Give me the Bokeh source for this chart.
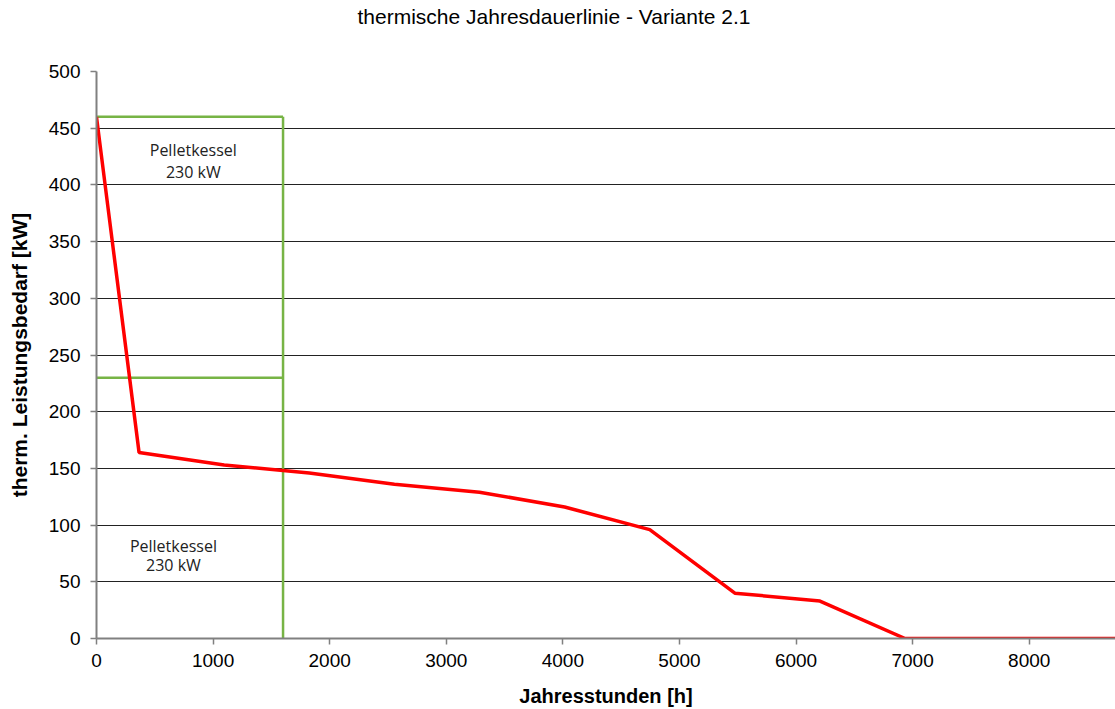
from bokeh.plotting import figure
from bokeh.models import Range1d, FixedTicker, Title
from bokeh.core.properties import value
from bokeh.embed import file_html
from bokeh.resources import INLINE

# data
hours = [0, 365, 1095, 1825, 2555, 3285, 4015, 4745, 5475, 6205, 6935, 8760]
demand_kw = [460, 164, 153, 146, 136, 129, 116, 96, 40, 33, 0, 0]

kessel_hours = 1600
peak_kw = 460
base_kw = 230

ann_upper = ["Pelletkessel", "230 kW"]
ann_lower = ["Pelletkessel", "230 kW"]

x_ticks = [0, 1000, 2000, 3000, 4000, 5000, 6000, 7000, 8000]
y_ticks = [0, 50, 100, 150, 200, 250, 300, 350, 400, 450, 500]

title_text = "thermische Jahresdauerlinie - Variante 2.1"

p = figure(width=1115, height=709, output_backend="svg", toolbar_location=None,
           x_range=Range1d(0, 8740), y_range=Range1d(0, 500),
           min_border_left=96, min_border_right=0, min_border_top=71, min_border_bottom=71)
p.title = None

# spacer between frame and title (nearest the frame), then the title itself
spacer = Title(text="\u00a0", text_font="Liberation Sans", text_font_size="21px",
               standoff=16, align="left")
p.add_layout(spacer, "above")
t = Title(text=title_text, align="left", offset=261,
          text_font="Liberation Sans", text_font_size="21px", text_font_style="normal",
          text_color="#000000", standoff=5)
p.add_layout(t, "above")

p.outline_line_color = None
p.background_fill_color = "white"
p.border_fill_color = "white"

# grid
p.xgrid.grid_line_color = None
p.ygrid.grid_line_color = "#222222"
p.ygrid.grid_line_width = 1
p.ygrid.ticker = FixedTicker(ticks=y_ticks)

# axes
for ax in (p.xaxis[0], p.yaxis[0]):
    ax.axis_line_color = "#808080"
    ax.axis_line_width = 2
    ax.major_tick_line_color = "#808080"
    ax.major_tick_line_width = 1.5
    ax.major_tick_in = 0
    ax.major_tick_out = 6
    ax.minor_tick_line_color = None
    ax.major_label_text_font = "Liberation Sans"
    ax.major_label_text_font_size = "19px"
    ax.major_label_text_color = "#000000"
    ax.axis_label_text_font = "Liberation Sans"
    ax.axis_label_text_font_size = "20px"
    ax.axis_label_text_font_style = "bold"
    ax.axis_label_text_color = "#000000"

p.yaxis.axis_label_text_font_size = "21px"
p.xaxis.ticker = FixedTicker(ticks=x_ticks)
p.yaxis.ticker = FixedTicker(ticks=y_ticks)
p.xaxis.axis_label = "Jahresstunden [h]"
p.yaxis.axis_label = "therm. Leistungsbedarf [kW]"
p.xaxis.major_label_standoff = 9
p.yaxis.major_label_standoff = 10
p.xaxis.axis_label_standoff = 15
p.yaxis.axis_label_standoff = 15

green = "#77B445"
# boiler box
p.segment(x0=[0, 0, kessel_hours], y0=[peak_kw, base_kw, 0],
          x1=[kessel_hours, kessel_hours, kessel_hours], y1=[peak_kw, base_kw, peak_kw],
          line_color=green, line_width=2.5)

# load duration curve
p.line(hours, demand_kw, line_color="#FF0000", line_width=3.5)

# annotations
p.text(x=[830, 830], y=[431, 411], text=ann_upper, text_align="center", text_baseline="middle",
       text_font=value("Open Sans"), text_font_size="16px", text_color="#222222")
p.text(x=[660, 660], y=[82, 65], text=ann_lower, text_align="center", text_baseline="middle",
       text_font=value("Open Sans"), text_font_size="16px", text_color="#222222")

open("out.html", "w").write(file_html(p, INLINE))
